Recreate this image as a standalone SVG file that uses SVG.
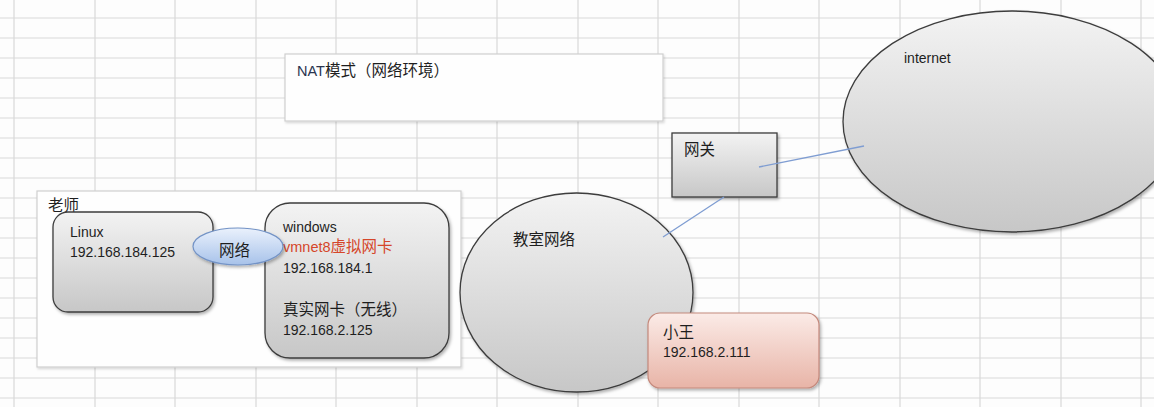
<svg xmlns="http://www.w3.org/2000/svg" width="1154" height="407" viewBox="0 0 1154 407">
<style>
  .grid { stroke: #d9d9d9; stroke-width: 1.2; fill: none; }
  .t { font-family: "Liberation Sans", "Noto Sans CJK SC", sans-serif; fill: #1e1e1e; }
  .cjk { font-family: "Noto Sans CJK SC", "Liberation Sans", sans-serif; fill: #1e1e1e; font-size: 15.5px; }
  .lat { font-size: 14px; }
  .node { stroke: #3c3c3c; stroke-width: 1.3; fill: url(#gray); filter: url(#sh); }
  .panel { fill: #fefefe; stroke: #cfcfcf; stroke-width: 1.2; }
  .conn { stroke: #7f9dd2; stroke-width: 1.3; fill: none; }
</style>
<defs>
  <linearGradient id="gray" x1="0" y1="0" x2="0" y2="1">
    <stop offset="0" stop-color="#f3f3f3"/>
    <stop offset="1" stop-color="#c7c7c7"/>
  </linearGradient>
  <linearGradient id="blue" x1="0" y1="0" x2="0" y2="1">
    <stop offset="0" stop-color="#eaf1fc"/>
    <stop offset="1" stop-color="#a7c2ea"/>
  </linearGradient>
  <linearGradient id="pink" x1="0" y1="0" x2="0" y2="1">
    <stop offset="0" stop-color="#fbebe7"/>
    <stop offset="1" stop-color="#e8b4a7"/>
  </linearGradient>
  <filter id="sh" x="-10%" y="-10%" width="125%" height="125%">
    <feDropShadow dx="1.5" dy="2" stdDeviation="1.5" flood-color="#000" flood-opacity="0.3"/>
  </filter>
  <filter id="shl" x="-5%" y="-10%" width="115%" height="130%">
    <feDropShadow dx="1" dy="1.5" stdDeviation="1" flood-color="#000" flood-opacity="0.15"/>
  </filter>
</defs>

<rect x="0" y="0" width="1154" height="407" fill="#fdfdfd"/>

<g id="grid">
  <path class="grid" d="M14 0V407 M95 0V407 M175 0V407 M256 0V407 M336 0V407 M417 0V407 M497 0V407 M578 0V407 M658 0V407 M739 0V407 M819 0V407 M900 0V407 M980 0V407 M1061 0V407 M1141 0V407"/>
  <path class="grid" d="M0 18H1154 M0 38H1154 M0 58H1154 M0 78H1154 M0 98H1154 M0 118H1154 M0 138H1154 M0 158H1154 M0 178H1154 M0 198H1154 M0 218H1154 M0 238H1154 M0 258H1154 M0 278H1154 M0 298H1154 M0 318H1154 M0 338H1154 M0 358H1154 M0 378H1154 M0 398H1154"/>
</g>

<g id="nat-title">
  <rect class="panel" x="285" y="54" width="378" height="67" filter="url(#shl)"/>
  <text class="t" x="297" y="76" font-size="14.5"><tspan fill="#2a3550">NAT</tspan><tspan font-family="Noto Sans CJK SC, sans-serif" font-size="15.5">模式（网络环境）</tspan></text>
</g>

<g id="teacher">
  <rect class="panel" x="37" y="191" width="424" height="176" filter="url(#shl)"/>
  <text class="cjk" x="48" y="211">老师</text>
</g>

<g id="internet">
  <ellipse class="node" cx="1012" cy="121.5" rx="169" ry="110.5"/>
  <text class="t lat" x="904" y="63">internet</text>
</g>

<g id="classroom">
  <ellipse class="node" cx="576.5" cy="292.5" rx="116.5" ry="99.5"/>
  <text class="cjk" x="513" y="245">教室网络</text>
</g>

<g id="gateway">
  <rect class="node" x="672" y="133" width="105" height="64"/>
  <text class="cjk" x="684" y="155">网关</text>
</g>

<g id="linux">
  <rect class="node" x="53" y="212" width="160" height="100" rx="15" ry="15"/>
  <text class="t lat" x="70" y="237">Linux</text>
  <text class="t lat" x="70" y="257">192.168.184.125</text>
</g>

<g id="windows">
  <rect class="node" x="265" y="203" width="184" height="155" rx="25" ry="25"/>
  <text class="t lat" x="283" y="232">windows</text>
  <text class="t" x="283" y="252" style="fill:#d5462a"><tspan font-size="14.5">vmnet8</tspan><tspan font-family="Noto Sans CJK SC, sans-serif" font-size="15.5">虚拟网卡</tspan></text>
  <text class="t lat" x="283" y="273">192.168.184.1</text>
  <text class="cjk" x="283" y="315">真实网卡（无线）</text>
  <text class="t lat" x="283" y="335">192.168.2.125</text>
</g>

<g id="network">
  <ellipse cx="238" cy="246.5" rx="45" ry="18.5" fill="url(#blue)" stroke="#7393c6" stroke-width="1.2" filter="url(#sh)"/>
  <text class="cjk" x="219" y="256">网络</text>
</g>

<g id="xiaowang">
  <rect x="648" y="313" width="171" height="75" rx="12" ry="12" fill="url(#pink)" stroke="#c4897c" stroke-width="1.2" filter="url(#sh)"/>
  <text class="cjk" x="663" y="338">小王</text>
  <text class="t lat" x="663" y="357">192.168.2.111</text>
</g>

<g id="connectors">
  <line class="conn" x1="759" y1="167" x2="864" y2="146"/>
  <line class="conn" x1="724" y1="197" x2="663" y2="237"/>
</g>
</svg>
